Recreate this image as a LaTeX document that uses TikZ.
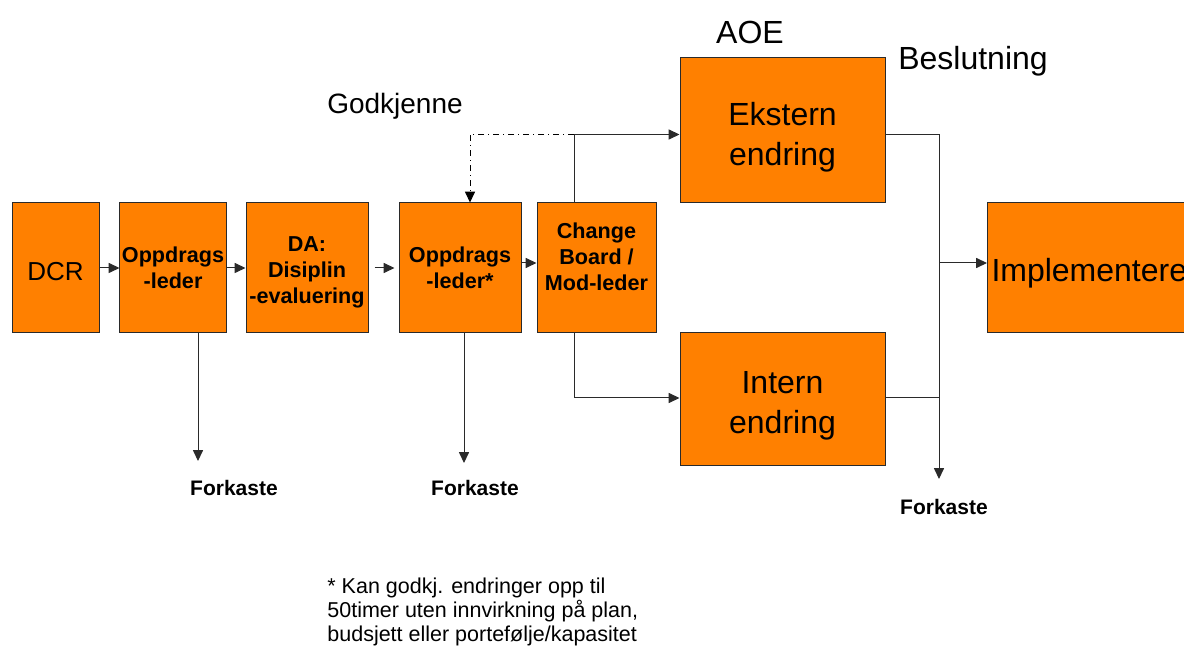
\documentclass[tikz,border=0pt]{standalone}
\usepackage{fontspec}
\setmainfont{Liberation Sans}
\usetikzlibrary{arrows.meta}
\definecolor{boxorange}{HTML}{FF8000}
\definecolor{boxline}{HTML}{2A2A2A}
\newcommand{\padtop}[1]{\rule{0pt}{#1}}
\newcommand{\padbot}[1]{\rule[-#1]{0pt}{#1}}
\tikzset{ stage/.style = { rectangle % process box
        , draw = boxline
        , line width = 0.5pt
        , fill = boxorange
        , align = center
        , inner sep = 1pt
        , minimum height = 65pt
        }
        , small/.style = { stage % bold text
        , font = \fontsize{10.8}{13}\selectfont\bfseries
        }
        , large/.style = { stage % big text
        , font = \fontsize{16}{20}\selectfont
        }
        , note/.style = { inner sep = 0pt % free text
        , font = \fontsize{16}{20}\selectfont
        }
        , reject/.style = { inner sep = 0pt % reject label
        , font = \fontsize{10.5}{13}\selectfont\bfseries
        }
        }

\begin{document}
\begin{tikzpicture}[x=0.5pt, y=-0.5pt,
        edge_style/.style={draw=boxline, line width=0.5pt, -{Triangle[length=5.4pt,width=5pt]}},
        line_style/.style={draw=boxline, line width=0.5pt},
        approve_style/.style={draw=black, line width=0.5pt, dash dot, -{Triangle[length=5.4pt,width=5pt]}}]
        \clip (0,0) rectangle (1184,646);

        \node [stage, minimum width=43.5pt, font=\fontsize{13}{16}\selectfont](dcr) at (55.5,268) {\padtop{12.3pt}DCR};
        \node [small, minimum width=53pt](opp1) at (173,268) {Oppdrags\\-leder};
        \node [small, minimum width=61pt](da) at (307,268) {\padtop{12.2pt}DA:\\Disiplin\\-evaluering};
        \node [small, minimum width=61pt](opp2) at (460,268) {Oppdrags\\-leder*};
        \node [small, minimum width=59.5pt](chg) at (596.5,268) {Change\\Board /\\Mod-leder\padbot{11pt}};
        \node [large, minimum width=102.5pt, minimum height=72.5pt](ext) at (782.5,130.5) {\padtop{18pt}Ekstern\\endring};
        \node [large, minimum width=102.5pt, minimum height=66.5pt](int) at (782.5,399.5) {\padtop{17.7pt}Intern\\endring};
        \node [large, anchor=west, inner xsep=2pt](impl) at (987,268) {\padtop{16.7pt}Implementere};

        \node [note](aoe) at (750,32) {AOE};
        \node [note](dec) at (973,61) {Beslutning};
        \node [note, font=\fontsize{14}{17}\selectfont](ok) at (395,106) {Godkjenne};
        \node [reject](f1) at (234,488) {Forkaste};
        \node [reject](f2) at (475,488) {Forkaste};
        \node [reject](f3) at (944,507) {Forkaste};
        \node [inner sep=0pt, anchor=north west, align=left, font=\fontsize{10.75}{12}\selectfont](foot) at (327,578)
            {* Kan godkj. endringer opp til\\50timer uten innvirkning på plan,\\budsjett eller portefølje/kapasitet};

        \coordinate (rej1) at (198,461);
        \coordinate (rej2) at (464,463);
        \coordinate (rej3) at (939,479);
        \coordinate (split) at ([xshift=-11.25pt,yshift=-2pt]chg.north |- ext.west);

        \draw [edge_style] (dcr) -- (opp1);
        \draw [edge_style] (opp1) -- (da);
        \draw [edge_style, shorten <=3pt, shorten >=2pt] (da) -- (opp2);
        \draw [edge_style] ([yshift=2.5pt]opp2.east) -- ([yshift=2.5pt]chg.west);
        \draw [edge_style] ([xshift=-11.25pt]chg.north) |- ([yshift=-2pt]ext.west);
        \draw [edge_style] ([xshift=-11.25pt]chg.south) |- ([yshift=0.75pt]int.west);
        \draw [approve_style] (split) -| ([xshift=5pt]opp2.north);
        \draw [edge_style] (opp1.south -| rej1) -- (rej1);
        \draw [edge_style] (opp2.south -| rej2) -- (rej2);
        \draw [edge_style] ([yshift=-2pt]ext.east) -| (rej3);
        \draw [line_style] ([yshift=0.75pt]int.east) -- ([yshift=0.75pt]int.east -| rej3);
        \draw [edge_style] ([yshift=2.5pt]impl.west -| rej3) -- ([yshift=2.5pt]impl.west);
\end{tikzpicture}
\end{document}
